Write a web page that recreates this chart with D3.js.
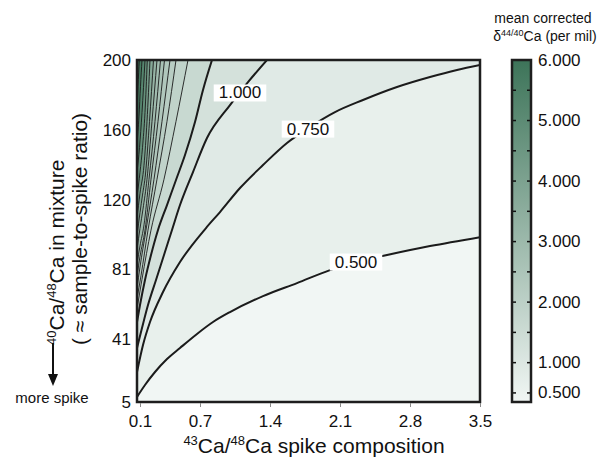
<!DOCTYPE html>
<html>
<head>
<meta charset="utf-8">
<script src="https://cdn.jsdelivr.net/npm/d3@7/dist/d3.min.js"></script>
<style>
    body { margin: 0; background: #fff; }
    svg { display: block; font-family: "Liberation Sans", Arial, sans-serif; }
</style>
</head>
<body>
<svg id="chart" width="600" height="458"></svg>
<script>
// axis ticks
const xTicks = [0.1, 0.7, 1.4, 2.1, 2.8, 3.5];
const yTicks = [5, 41, 81, 120, 160, 200];
const colorTicks = [0.5, 1, 1.5, 2, 2.5, 3, 3.5, 4, 4.5, 5, 5.5, 6];
const colorLabels = [0.5, 1, 2, 3, 4, 5, 6];

// contour levels (per mil) and the traced line of each, [spike 43/48, mixture 40/48]
const levels = [0.5, 0.75, 1.0, 1.5, 1.75, 2.0, 2.25, 2.5, 2.75, 3.0, 3.5, 4.0, 4.5, 5.0, 5.5, 6.0];
const contourPoints = [
    [[0.07, 7.9], [0.15, 14.7], [0.25, 22.1], [0.37, 29.5], [0.5, 35.8], [0.67, 43.8], [0.83, 50.6], [1.0, 56.3],
     [1.33, 65.4], [1.67, 72.8], [2.0, 80.2], [2.26, 84.8], [2.57, 88.8], [3.0, 93.9], [3.5, 99.0]],
    [[0.07, 22.1], [0.13, 37.5], [0.2, 50.6], [0.33, 67.7], [0.5, 84.8], [0.76, 104.2], [0.9, 113.3], [1.1, 127],
     [1.33, 140.1], [1.57, 152.7], [1.8, 161.8], [2.05, 170.3], [2.33, 177.2], [2.67, 184.6], [3.0, 190.3],
     [3.27, 194.3], [3.5, 197.1]],
    [[0.07, 35.8], [0.12, 47.2], [0.18, 60.3], [0.26, 74.6], [0.34, 88.8], [0.42, 103.1], [0.5, 117.3],
     [0.63, 136.1], [0.77, 155.5], [1.0, 174.3], [1.18, 187.4], [1.37, 200]],
    [[0.07, 50.6], [0.1, 60.3], [0.15, 74.6], [0.21, 88.8], [0.28, 103.1], [0.37, 117.3], [0.46, 131.6],
     [0.55, 145.8], [0.65, 164.6], [0.73, 182.9], [0.82, 200]],
    [[0.07, 58], [0.12, 75], [0.21, 103], [0.34, 132], [0.46, 165], [0.58, 200]],
    [[0.07, 64], [0.11, 77], [0.18, 103], [0.27, 132], [0.37, 165], [0.46, 200]],
    [[0.07, 70], [0.1, 82], [0.16, 103], [0.24, 132], [0.32, 165], [0.40, 200]],
    [[0.07, 77], [0.1, 88], [0.15, 103], [0.21, 132], [0.28, 165], [0.345, 200]],
    [[0.07, 84], [0.1, 94], [0.14, 106], [0.19, 132], [0.25, 165], [0.305, 200]],
    [[0.07, 92], [0.1, 104], [0.13, 115], [0.17, 132], [0.22, 165], [0.27, 200]],
    [[0.07, 100], [0.1, 113], [0.125, 123], [0.155, 135], [0.195, 165], [0.235, 200]],
    [[0.07, 110], [0.1, 124], [0.14, 140], [0.17, 165], [0.2, 200]],
    [[0.07, 122], [0.1, 136], [0.125, 150], [0.15, 170], [0.173, 200]],
    [[0.07, 136], [0.095, 150], [0.12, 170], [0.15, 200]],
    [[0.07, 152], [0.09, 168], [0.105, 185], [0.12, 200]],
    [[0.07, 172], [0.08, 185], [0.093, 200]]
];
const thickLevels = [0.5, 0.75, 1.0, 1.5];

// inline labels on contours
const labelText = ["1.000", "0.750", "0.500"];
const labelX = [1.1, 1.78, 2.26];
const labelY = [181.2, 160.6, 84.8];

const svg = d3.select("#chart");
const margin = { top: 60, right: 120, bottom: 56, left: 137 };
const W = 600, H = 458;

const x = d3.scaleLinear().domain([0.07, 3.5]).range([margin.left, W - margin.right]);
const y = d3.scaleLinear().domain([5, 200]).range([H - margin.bottom, margin.top]);
const cmin = 0.35, cmax = 6.0;
const color = d3.scaleLinear().domain([cmin, cmax]).range(["#f1f6f4", "#3d7459"]);

svg.append("defs").append("clipPath").attr("id", "plotclip")
    .append("rect")
    .attr("x", x(0.07)).attr("y", y(200))
    .attr("width", x(3.5) - x(0.07)).attr("height", y(5) - y(200));

const plot = svg.append("g").attr("clip-path", "url(#plotclip)");

// lowest band
plot.append("rect")
    .attr("x", x(0.07)).attr("y", y(200))
    .attr("width", x(3.5) - x(0.07)).attr("height", y(5) - y(200))
    .attr("fill", color(cmin));

const line = d3.line().x(d => x(d[0])).y(d => y(d[1])).curve(d3.curveMonotoneX);

// fill each band: area above-left of a contour
levels.forEach((lv, i) => {
    const pts = contourPoints[i];
    const last = pts[pts.length - 1];
    const next = i + 1 < levels.length ? levels[i + 1] : cmax;
    let d = line(pts);
    if (last[0] >= 3.5 && last[1] < 200) d += `L${x(3.5)},${y(200)}`;
    d += `L${x(0.07)},${y(200)}Z`;
    plot.append("path")
        .attr("d", d)
        .attr("fill", color((lv + next) / 2))
        .attr("stroke", "none");
});

// contour lines
levels.forEach((lv, i) => {
    plot.append("path")
        .attr("d", line(contourPoints[i]))
        .attr("fill", "none")
        .attr("stroke", "#1b1b1b")
        .attr("stroke-width", thickLevels.includes(lv) ? 2 : 0.9);
});

// contour labels with white boxes
labelText.forEach((t, i) => {
    const g = svg.append("g");
    const txt = g.append("text")
        .attr("x", x(labelX[i])).attr("y", y(labelY[i]))
        .attr("text-anchor", "middle")
        .attr("dominant-baseline", "central")
        .attr("font-size", 17)
        .attr("fill", "#111")
        .text(t);
    const bb = txt.node().getBBox();
    g.insert("rect", "text")
        .attr("x", bb.x - 5).attr("y", bb.y + 1)
        .attr("width", bb.width + 10).attr("height", bb.height - 2)
        .attr("fill", "#fff");
});

// frame
svg.append("rect")
    .attr("x", x(0.07)).attr("y", y(200))
    .attr("width", x(3.5) - x(0.07)).attr("height", y(5) - y(200))
    .attr("fill", "none").attr("stroke", "#1e1e1e").attr("stroke-width", 2.5);

// axes
const xAxis = svg.append("g")
    .attr("transform", `translate(0,${y(5) + 1})`)
    .call(d3.axisBottom(x).tickValues(xTicks).tickSize(4).tickPadding(8).tickFormat(d3.format(".1f")));
xAxis.select(".domain").remove();
xAxis.selectAll(".tick line").attr("stroke", "#888");
xAxis.selectAll("text").attr("font-size", 17).attr("fill", "#111").attr("font-family", null);

const yAxis = svg.append("g")
    .attr("transform", `translate(${x(0.07)},0)`)
    .call(d3.axisLeft(y).tickValues(yTicks).tickSize(0).tickPadding(6));
yAxis.select(".domain").remove();
yAxis.selectAll("text").attr("font-size", 17).attr("fill", "#111").attr("font-family", null);

// x title
const xt = svg.append("text")
    .attr("x", 314).attr("y", 453)
    .attr("text-anchor", "middle")
    .attr("font-size", 21).attr("fill", "#111");
xt.append("tspan").attr("font-size", 13).attr("dy", -8).text("43");
xt.append("tspan").attr("dy", 8).text("Ca/");
xt.append("tspan").attr("font-size", 13).attr("dy", -8).text("48");
xt.append("tspan").attr("dy", 8).text("Ca spike composition");

// y title (two lines, rotated)
const yt1 = svg.append("text")
    .attr("transform", "translate(64,345) rotate(-90)")
    .attr("font-size", 21).attr("fill", "#111");
yt1.append("tspan").attr("font-size", 13).attr("dy", -8).text("40");
yt1.append("tspan").attr("dy", 8).text("Ca/");
yt1.append("tspan").attr("font-size", 13).attr("dy", -8).text("48");
yt1.append("tspan").attr("dy", 8).text("Ca in mixture");

svg.append("text")
    .attr("transform", "translate(87,345) rotate(-90)")
    .attr("font-size", 21).attr("fill", "#111")
    .text("( \u2248 sample-to-spike ratio)");

// "more spike" arrow
svg.append("line")
    .attr("x1", 53).attr("y1", 343).attr("x2", 53).attr("y2", 376)
    .attr("stroke", "#111").attr("stroke-width", 2);
svg.append("path")
    .attr("d", "M48,374 L58,374 L53,386 Z")
    .attr("fill", "#111");
svg.append("text")
    .attr("x", 52).attr("y", 403)
    .attr("text-anchor", "middle")
    .attr("font-size", 15).attr("fill", "#111")
    .text("more spike");

// colour bar
const cb = { x: 512, w: 19 };
const cy = d3.scaleLinear().domain([cmin, cmax]).range([y(5), y(200)]);
const grad = svg.select("defs").append("linearGradient")
    .attr("id", "cbgrad").attr("x1", 0).attr("y1", 1).attr("x2", 0).attr("y2", 0);
grad.append("stop").attr("offset", "0%").attr("stop-color", color(cmin));
grad.append("stop").attr("offset", "100%").attr("stop-color", color(cmax));

svg.append("rect")
    .attr("x", cb.x).attr("y", cy(cmax))
    .attr("width", cb.w).attr("height", cy(cmin) - cy(cmax))
    .attr("fill", "url(#cbgrad)");

svg.selectAll(".cbtickl").data(colorTicks).enter().append("line")
    .attr("x1", cb.x).attr("x2", cb.x + 4)
    .attr("y1", d => cy(d)).attr("y2", d => cy(d))
    .attr("stroke", "#111").attr("stroke-width", 1.5);
svg.selectAll(".cbtickr").data(colorTicks).enter().append("line")
    .attr("x1", cb.x + cb.w - 4).attr("x2", cb.x + cb.w)
    .attr("y1", d => cy(d)).attr("y2", d => cy(d))
    .attr("stroke", "#111").attr("stroke-width", 1.5);

svg.append("rect")
    .attr("x", cb.x).attr("y", cy(cmax))
    .attr("width", cb.w).attr("height", cy(cmin) - cy(cmax))
    .attr("fill", "none").attr("stroke", "#1e1e1e").attr("stroke-width", 2.5);

svg.selectAll(".cblabel").data(colorLabels).enter().append("text")
    .attr("x", cb.x + cb.w + 7).attr("y", d => cy(d))
    .attr("dominant-baseline", "central")
    .attr("font-size", 17).attr("fill", "#111")
    .text(d => d3.format(".3f")(d));

// colour bar title
svg.append("text")
    .attr("x", 543).attr("y", 23)
    .attr("text-anchor", "middle")
    .attr("font-size", 14).attr("fill", "#111")
    .text("mean corrected");
const ct = svg.append("text")
    .attr("x", 545).attr("y", 41)
    .attr("text-anchor", "middle")
    .attr("font-size", 14).attr("fill", "#111");
ct.append("tspan").text("\u03b4");
ct.append("tspan").attr("font-size", 9).attr("dy", -5).text("44/40");
ct.append("tspan").attr("dy", 5).text("Ca (per mil)");
</script>
</body>
</html>
